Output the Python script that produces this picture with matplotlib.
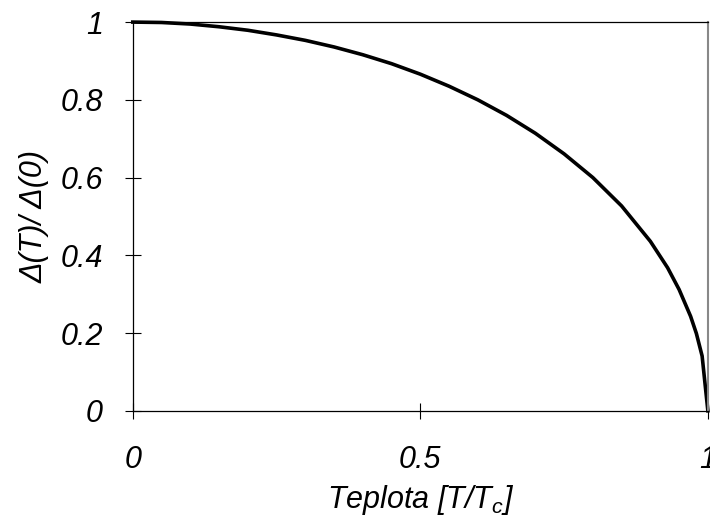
import matplotlib
matplotlib.use("Agg")
import matplotlib.pyplot as plt

# reduced temperature T/Tc and gap ratio
t_red = [0.0, 0.05, 0.1, 0.15, 0.2, 0.25, 0.3, 0.35, 0.4, 0.45, 0.5, 0.55, 0.6,
         0.65, 0.7, 0.75, 0.8, 0.85, 0.9, 0.93, 0.95, 0.97, 0.98, 0.99, 1.0]
gap = [1.0, 0.999, 0.995, 0.988, 0.979, 0.967, 0.953, 0.936, 0.916, 0.893, 0.866,
       0.835, 0.800, 0.760, 0.714, 0.661, 0.600, 0.527, 0.436, 0.368, 0.312,
       0.243, 0.199, 0.141, 0.0]

xticks = [0, 0.5, 1]
xticklabels = ['0', '0.5', '1']
yticks = [0, 0.2, 0.4, 0.6, 0.8, 1.0]
yticklabels = ['0', '0.2', '0.4', '0.6', '0.8', '1']

plt.rcParams['font.family'] = ['Liberation Sans', 'DejaVu Sans']
plt.rcParams['font.style'] = 'italic'
plt.rcParams['mathtext.fontset'] = 'custom'
plt.rcParams['mathtext.rm'] = 'Liberation Sans:italic'
plt.rcParams['mathtext.it'] = 'Liberation Sans:italic'

fig = plt.figure(figsize=(7.1, 5.26), dpi=100)
ax = fig.add_axes([0.187, 0.219, 0.81, 0.739])

ax.plot(t_red, gap, color='black', linewidth=2.6, clip_on=False)

ax.set_xlim(0, 1)
ax.set_ylim(0, 1)
ax.set_xticks(xticks)
ax.set_xticklabels(xticklabels)
ax.set_yticks(yticks)
ax.set_yticklabels(yticklabels)
ax.tick_params(direction='inout', length=11, width=0.8, labelsize=22)
ax.tick_params(axis='x', pad=19)
ax.tick_params(axis='y', pad=16)

for s in ['left', 'bottom', 'top']:
    ax.spines[s].set_linewidth(0.9)
ax.spines['right'].set_color('#888888')
ax.spines['right'].set_linewidth(1.5)

ax.set_xlabel(r'Teplota [T/T$_{\rm c}$]', fontsize=22, labelpad=6)
ax.set_ylabel('Δ(T)/ Δ(0)', fontsize=22, labelpad=8)

fig.savefig('out.png', dpi=100)
